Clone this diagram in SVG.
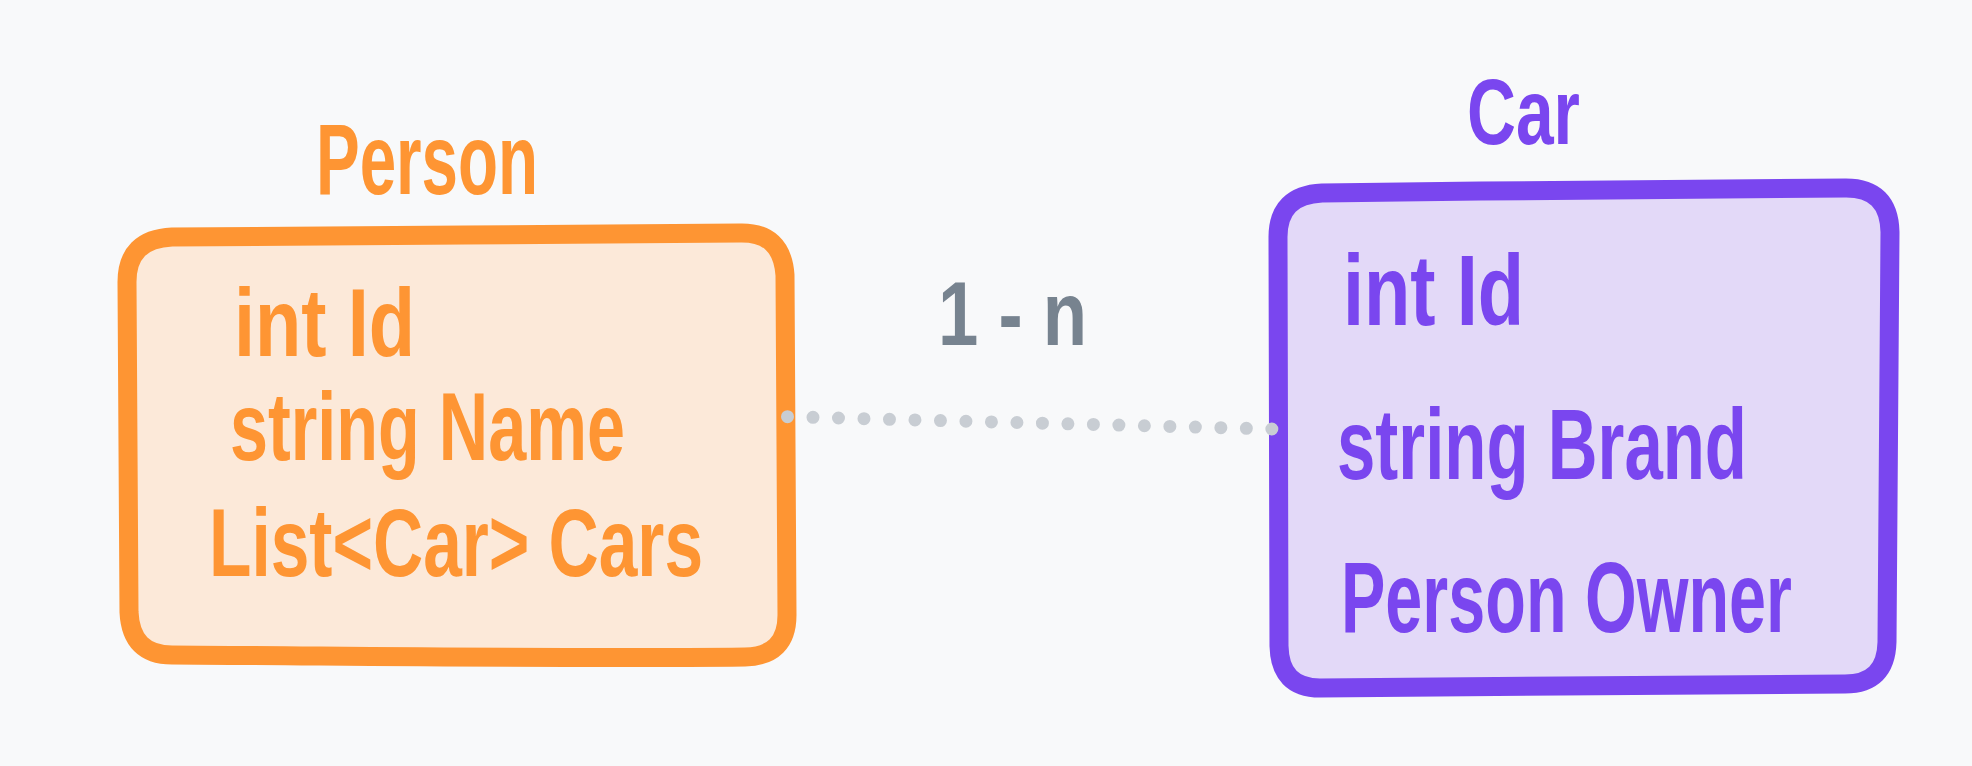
<svg xmlns="http://www.w3.org/2000/svg" width="1972" height="766" viewBox="0 0 1972 766">
<style>
.t{font-family:"Liberation Sans","DejaVu Sans",sans-serif;font-weight:bold;font-size:96px}
.o{fill:#fe9533}
.p{fill:#7a46ef}
.g{fill:#77838f}
.big{font-size:100px}
</style>
<rect width="1972" height="766" fill="#f8f9fa"/>
<g id="person">
<path d="M172 237 C350 234 560 236 740 233 Q782 232 785 275 L787 615 Q787 656 745 657 C560 659 350 656 172 655 Q131 655 129 612 L127 282 Q127 239 172 237 Z" fill="#fce9d9" stroke="#fe9533" stroke-width="19" stroke-linejoin="round"/>
<text class="t o big" x="316" y="194" textLength="222" lengthAdjust="spacingAndGlyphs">Person</text>
<text class="t o" x="234" y="356" textLength="181" lengthAdjust="spacingAndGlyphs">int Id</text>
<text class="t o" x="230" y="460" textLength="395" lengthAdjust="spacingAndGlyphs">string Name</text>
<text class="t o" x="209" y="576" textLength="494" lengthAdjust="spacingAndGlyphs">List&lt;Car&gt; Cars</text>
</g>
<g id="car">
<path d="M1322 193 C1500 190 1700 190 1846 188 Q1889 188 1890 232 L1887 642 Q1886 684 1845 684 C1700 686 1500 686 1320 688 Q1280 688 1279 646 L1278 237 Q1278 195 1322 193 Z" fill="#e3d9f8" stroke="#7a46ef" stroke-width="19" stroke-linejoin="round"/>
<text class="t p" x="1467" y="144" textLength="113" lengthAdjust="spacingAndGlyphs" style="font-size:92px">Car</text>
<text class="t p big" x="1343" y="325" textLength="181" lengthAdjust="spacingAndGlyphs">int Id</text>
<text class="t p big" x="1337" y="479" textLength="410" lengthAdjust="spacingAndGlyphs">string Brand</text>
<text class="t p big" x="1341" y="632" textLength="451" lengthAdjust="spacingAndGlyphs">Person Owner</text>
</g>
<g id="connectors">
<line x1="787.5" y1="416.7" x2="1272" y2="429" stroke="#c8cdd3" stroke-width="13" stroke-linecap="round" stroke-dasharray="0 25.5"/>
<text class="t g" x="938" y="345" textLength="149" lengthAdjust="spacingAndGlyphs" style="font-size:90px">1 - n</text>
</g>
</svg>
